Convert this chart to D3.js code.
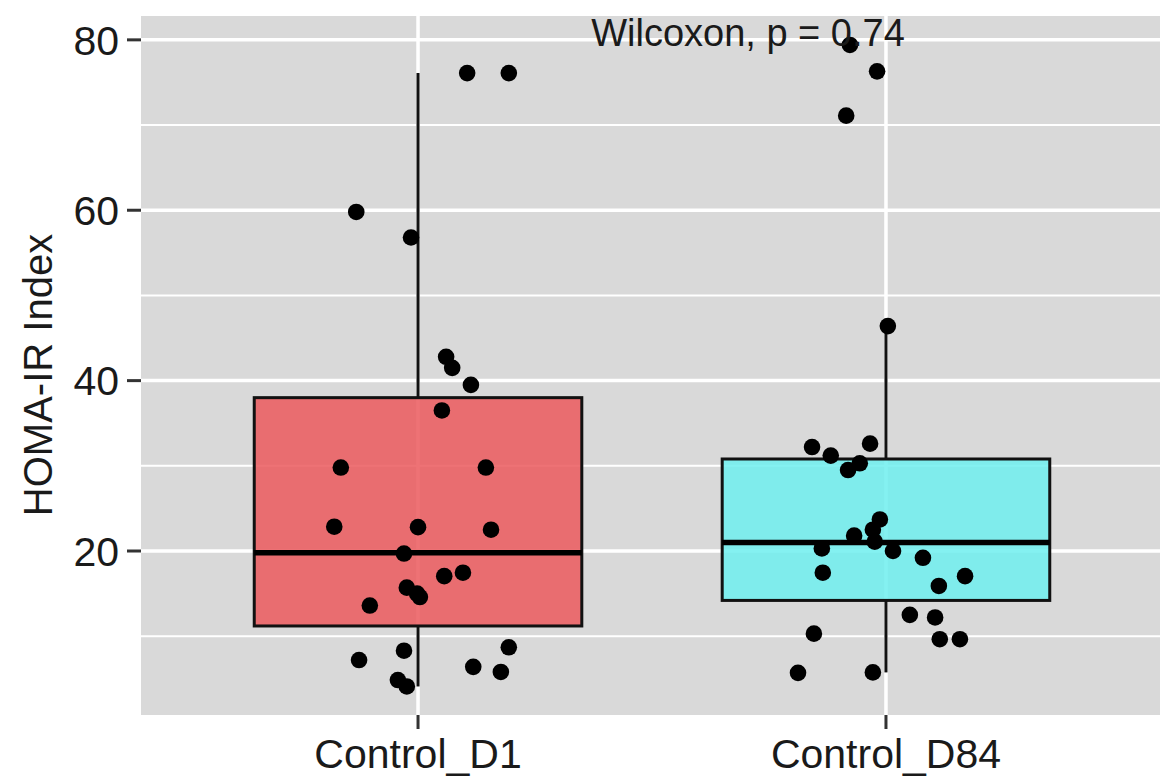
<!DOCTYPE html>
<html>
<head>
<meta charset="utf-8">
<script src="https://cdn.jsdelivr.net/npm/d3@7"></script>
<style>
  html, body { margin: 0; padding: 0; background: #ffffff; }
  svg { display: block; font-family: "Liberation Sans", Arial, Helvetica, sans-serif; }
</style>
</head>
<body>
<svg id="chart" width="1160" height="781"></svg>
<script>
// ---- data ----
const categories = ["Control_D1", "Control_D84"];
const boxColors = ["#EB595D", "#6EEEEE"];
// box stats: [lowerWhisker, q1, median, q3, upperWhisker]
const statsD1 = [4.1, 11.2, 19.8, 38.0, 76.1];
const statsD84 = [5.75, 14.2, 21.0, 30.8, 46.4];
const yTicks = [20, 40, 60, 80];
const yMinorTicks = [10, 30, 50, 70];
// jittered points: value and horizontal jitter (in category units)
const valuesD1 = [76.1, 76.1, 59.8, 56.8, 42.8, 41.5, 39.5, 36.5, 29.8, 29.8, 22.85, 22.8, 22.5, 19.7, 17.05, 17.45, 15.7, 15.0, 14.6, 13.6, 7.2, 8.3, 8.7, 6.4, 5.8, 4.85, 4.1];
const jitterD1 = [0.105, 0.194, -0.132, -0.015, 0.060, 0.073, 0.113, 0.051, -0.165, 0.145, -0.179, 0.0, 0.156, -0.030, 0.056, 0.096, -0.024, -0.002, 0.004, -0.103, -0.126, -0.030, 0.194, 0.118, 0.177, -0.043, -0.024];
const valuesD84 = [79.4, 76.3, 71.1, 46.4, 32.2, 31.2, 32.6, 30.3, 29.5, 23.7, 22.5, 21.8, 21.1, 20.3, 20.0, 19.2, 17.45, 17.05, 15.9, 12.5, 12.2, 10.3, 9.65, 9.65, 5.7, 5.75];
const jitterD84 = [-0.077, -0.019, -0.085, 0.004, -0.158, -0.118, -0.034, -0.056, -0.081, -0.013, -0.028, -0.068, -0.024, -0.137, 0.015, 0.079, -0.135, 0.169, 0.113, 0.051, 0.105, -0.154, 0.115, 0.158, -0.188, -0.028];
const annotation = "Wilcoxon, p = 0.74";
const yTitle = "HOMA-IR Index";

// ---- layout ----
const panel = { left: 141, top: 16, right: 1163, bottom: 715 };
const svg = d3.select("#chart");

const x = d3.scalePoint().domain(categories).range([panel.left, panel.right]).padding(0.592);
const step = x.step();
const y = d3.scaleLinear().domain([0.75, 82.8]).range([panel.bottom, panel.top]);

// panel background
svg.append("rect")
  .attr("x", panel.left).attr("y", panel.top)
  .attr("width", panel.right - panel.left).attr("height", panel.bottom - panel.top)
  .attr("fill", "#D9D9D9");

const grid = svg.append("g");
grid.selectAll("line.minor").data(yMinorTicks).join("line")
  .attr("x1", panel.left).attr("x2", panel.right)
  .attr("y1", d => y(d)).attr("y2", d => y(d))
  .attr("stroke", "#ffffff").attr("stroke-width", 2);
grid.selectAll("line.majorY").data(yTicks).join("line")
  .attr("x1", panel.left).attr("x2", panel.right)
  .attr("y1", d => y(d)).attr("y2", d => y(d))
  .attr("stroke", "#ffffff").attr("stroke-width", 3.5);
grid.selectAll("line.majorX").data(categories).join("line")
  .attr("x1", d => x(d)).attr("x2", d => x(d))
  .attr("y1", panel.top).attr("y2", panel.bottom)
  .attr("stroke", "#ffffff").attr("stroke-width", 3.5);

// boxplots
const boxes = [statsD1, statsD84];
const boxW = 0.7 * step;
const bg = svg.append("g");
boxes.forEach((s, i) => {
  const cx = x(categories[i]);
  bg.append("line")
    .attr("x1", cx).attr("x2", cx).attr("y1", y(s[4])).attr("y2", y(s[3]))
    .attr("stroke", "#111").attr("stroke-width", 3);
  bg.append("line")
    .attr("x1", cx).attr("x2", cx).attr("y1", y(s[1])).attr("y2", y(s[0]))
    .attr("stroke", "#111").attr("stroke-width", 3);
  bg.append("rect")
    .attr("x", cx - boxW / 2).attr("y", y(s[3]))
    .attr("width", boxW).attr("height", y(s[1]) - y(s[3]))
    .attr("fill", boxColors[i]).attr("fill-opacity", 0.85)
    .attr("stroke", "#111").attr("stroke-width", 3);
  bg.append("line")
    .attr("x1", cx - boxW / 2).attr("x2", cx + boxW / 2)
    .attr("y1", y(s[2])).attr("y2", y(s[2]))
    .attr("stroke", "#000").attr("stroke-width", 5.5);
});

// points
const pts = [];
valuesD1.forEach((v, i) => pts.push({ c: categories[0], v, j: jitterD1[i] }));
valuesD84.forEach((v, i) => pts.push({ c: categories[1], v, j: jitterD84[i] }));
svg.append("g").selectAll("circle").data(pts).join("circle")
  .attr("cx", d => x(d.c) + d.j * step)
  .attr("cy", d => y(d.v))
  .attr("r", 8.3)
  .attr("fill", "#000");

// annotation
svg.append("text")
  .attr("x", 748).attr("y", 46)
  .attr("text-anchor", "middle")
  .attr("font-size", 38)
  .attr("fill", "#1a1a1a")
  .text(annotation);

// y axis
const yAxis = svg.append("g");
yAxis.selectAll("line").data(yTicks).join("line")
  .attr("x1", panel.left - 14).attr("x2", panel.left)
  .attr("y1", d => y(d)).attr("y2", d => y(d))
  .attr("stroke", "#333").attr("stroke-width", 3);
yAxis.selectAll("text").data(yTicks).join("text")
  .attr("x", panel.left - 22).attr("y", d => y(d))
  .attr("dy", "0.36em")
  .attr("text-anchor", "end")
  .attr("font-size", 41)
  .attr("fill", "#1a1a1a")
  .text(d => d);

// x axis
const xAxis = svg.append("g");
xAxis.selectAll("line").data(categories).join("line")
  .attr("x1", d => x(d)).attr("x2", d => x(d))
  .attr("y1", panel.bottom).attr("y2", panel.bottom + 14)
  .attr("stroke", "#333").attr("stroke-width", 3);
xAxis.selectAll("text").data(categories).join("text")
  .attr("x", d => x(d)).attr("y", 768)
  .attr("text-anchor", "middle")
  .attr("font-size", 41)
  .attr("fill", "#1a1a1a")
  .text(d => d);

// y title
svg.append("text")
  .attr("transform", "translate(52,375) rotate(-90)")
  .attr("text-anchor", "middle")
  .attr("font-size", 40)
  .attr("fill", "#1a1a1a")
  .text(yTitle);
</script>
</body>
</html>
